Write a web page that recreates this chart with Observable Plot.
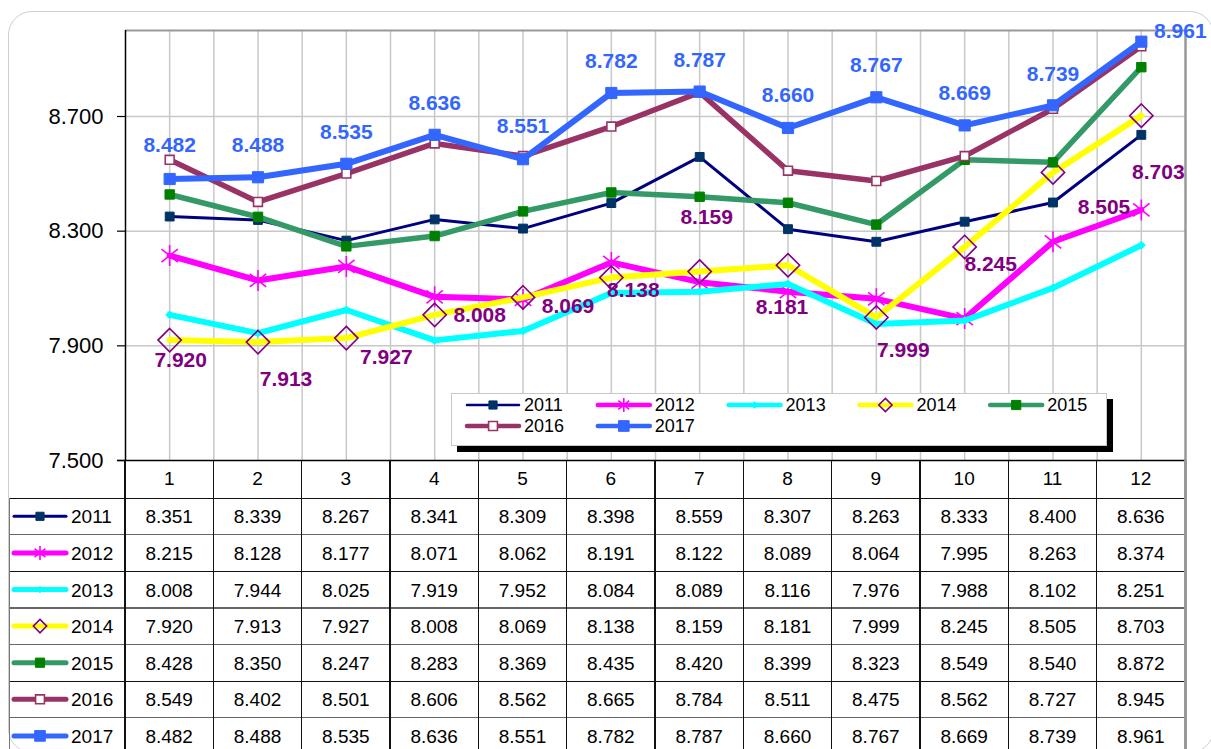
<!DOCTYPE html>
<html><head><meta charset="utf-8">
<script src="https://cdn.jsdelivr.net/npm/d3@7"></script>
<script src="https://cdn.jsdelivr.net/npm/@observablehq/plot@0.6"></script>
<style>
body{margin:0;background:#fff;font-family:"Liberation Sans",Arial,sans-serif;}
#wrap{position:relative;width:1211px;height:749px;overflow:hidden;background:#fff;}
#frame{position:absolute;left:8px;top:11px;width:1206px;height:742px;border:1.5px solid #cfcfcf;border-radius:24px;box-sizing:border-box;}
#chart{position:absolute;left:0;top:0;}
.cell{position:absolute;text-align:center;font-size:19px;color:#000;line-height:20px;white-space:nowrap;}
.hl,.vl{position:absolute;}
#legend{position:absolute;background:#fff;border:1px solid #c8c8c8;box-shadow:6px 6px 0 #000;}
.lg{position:absolute;font-size:18px;line-height:16px;height:16px;white-space:nowrap;}
svg.key{position:absolute;overflow:visible;}
</style></head>
<body><div id="wrap"><div id="frame"></div><div id="chart"></div><div id="table"></div></div>
<script>
// ---- data ----
const months = [1,2,3,4,5,6,7,8,9,10,11,12];
const years = ["2011","2012","2013","2014","2015","2016","2017"];
const v2011 = [8.351,8.339,8.267,8.341,8.309,8.398,8.559,8.307,8.263,8.333,8.400,8.636];
const v2012 = [8.215,8.128,8.177,8.071,8.062,8.191,8.122,8.089,8.064,7.995,8.263,8.374];
const v2013 = [8.008,7.944,8.025,7.919,7.952,8.084,8.089,8.116,7.976,7.988,8.102,8.251];
const v2014 = [7.920,7.913,7.927,8.008,8.069,8.138,8.159,8.181,7.999,8.245,8.505,8.703];
const v2015 = [8.428,8.350,8.247,8.283,8.369,8.435,8.420,8.399,8.323,8.549,8.540,8.872];
const v2016 = [8.549,8.402,8.501,8.606,8.562,8.665,8.784,8.511,8.475,8.562,8.727,8.945];
const v2017 = [8.482,8.488,8.535,8.636,8.551,8.782,8.787,8.660,8.767,8.669,8.739,8.961];
const seriesValues = [v2011,v2012,v2013,v2014,v2015,v2016,v2017];
const yTicks = [7.5,7.9,8.3,8.7];
const yDomain = [7.5,9.0];

// ---- styles (not data) ----
const excelStar = {draw(ctx,size){const r=Math.sqrt(size/Math.PI);const a=r*0.78,b=r*0.62;
  ctx.moveTo(0,-r);ctx.lineTo(0,r);ctx.moveTo(-a,-b);ctx.lineTo(a,b);ctx.moveTo(-a,b);ctx.lineTo(a,-b);}};
const styles = [
 {line:"#000080",w:3,  sym:"square",  r:5,   fill:"#003366",stroke:"#003366",sw:1, kr:4.6},
 {line:"#ff00ff",w:6,  sym:excelStar, r:10.5,fill:"none",   stroke:"#ff00ff",sw:1.6,kr:7},
 {line:"#00ffff",w:6,  sym:"diamond2",r:3.5, fill:"#00ffff",stroke:"#00ffff",sw:1, kr:3},
 {line:"#ffff00",w:6,  sym:"diamond2",r:10.5,fill:"none",   stroke:"#800080",sw:1.6,kr:6},
 {line:"#339966",w:5.5,sym:"square",  r:5.3, fill:"#008000",stroke:"#008000",sw:1, kr:5.2},
 {line:"#993366",w:5.5,sym:"square",  r:5,   fill:"#ffffff",stroke:"#993366",sw:1.6,kr:5},
 {line:"#3366ff",w:6,  sym:"square",  r:6.3, fill:"#3366ff",stroke:"#3366ff",sw:1, kr:6}
];
// label nudges in pixels [dx, dy]
const nudge2014 = [[11,20],[28,37],[40,19],[45,0],[45,9],[22,13],[7,-54],[-6,42],[27,33],[26,17],[51,35],[17,57]];
const nudge2017 = [[0,-34],[0,-32],[0,-32],[0,-32],[0,-33],[0,-32],[0,-31],[0,-33],[0,-32],[0,-32],[0,-31],[39,-10]];

const fmt = d3.format(".3f");
const gridX = months.flatMap(m => m < 12 ? [m, m + 0.5] : [m]);

const marks = [
  Plot.gridY({ticks: yTicks.slice(1), stroke:"#c8c8c8", strokeOpacity:1, strokeWidth:1.5}),
  Plot.gridX({ticks: gridX, stroke:"#c8c8c8", strokeOpacity:1, strokeWidth:1.5}),
  Plot.ruleY([yDomain[1]], {stroke:"#999", strokeWidth:2}),
  Plot.ruleX([12.5], {stroke:"#999", strokeWidth:2.5}),
  Plot.ruleX([0.5], {stroke:"#000", strokeWidth:1.5}),
  Plot.ruleY([yDomain[0]], {stroke:"#000", strokeWidth:1.5, x1:0.41, x2:12.5}),
  Plot.axisY({ticks: yTicks, tickFormat: fmt, tickSize:8, tickPadding:14, fontSize:22, label:null, stroke:"#000", strokeWidth:1.2})
];
years.forEach((yr,i) => {
  const s = styles[i];
  const d = months.map((m,j) => ({month:m, value:seriesValues[i][j]}));
  marks.push(Plot.line(d, {x:"month", y:"value", stroke:s.line, strokeWidth:s.w, strokeLinejoin:"round", strokeLinecap:"round"}));
  marks.push(Plot.dot(d, {x:"month", y:"value", symbol:s.sym, r:s.r, fill:s.fill, stroke:s.stroke, strokeWidth:s.sw}));
});
months.forEach((m,j) => {
  marks.push(Plot.text([{month:m, value:v2014[j]}], {x:"month", y:"value", text:d=>fmt(d.value), dx:nudge2014[j][0], dy:nudge2014[j][1], fill:"#800080", fontWeight:"bold", fontSize:21}));
  marks.push(Plot.text([{month:m, value:v2017[j]}], {x:"month", y:"value", text:d=>fmt(d.value), dx:nudge2017[j][0], dy:nudge2017[j][1], fill:"#3366ff", fontWeight:"bold", fontSize:21}));
});

const chart = Plot.plot({
  width:1211, height:461, marginTop:30, marginBottom:1, marginLeft:125, marginRight:26,
  style:{fontFamily:"'Liberation Sans', Arial, sans-serif", fontSize:"22px", overflow:"visible", background:"transparent", color:"#000"},
  x:{type:"linear", domain:[0.5,12.5], axis:null},
  y:{domain:yDomain, axis:null},
  marks
});
document.getElementById("chart").appendChild(chart);

const xs = chart.scale("x");
const X = v => xs.apply(v);
const tbl = document.getElementById("table");
const wrap = document.getElementById("wrap");
const top0 = 460, headH = 38, rowH = 36.6, tableLeft = 9;
function add(cls, css, txt){const e=document.createElement("div");e.className=cls;Object.assign(e.style,css);if(txt!=null)e.textContent=txt;tbl.appendChild(e);return e;}
// header numbers
months.forEach(m => add("cell",{left:(X(m-0.5))+"px",width:(X(m+0.5)-X(m-0.5))+"px",top:(top0+headH/2-10)+"px"}, String(m)));
// values
years.forEach((yr,i) => {
  const cy = top0 + headH + rowH*i + rowH/2;
  months.forEach((m,j) => add("cell",{left:X(m-0.5)+"px",width:(X(m+0.5)-X(m-0.5))+"px",top:(cy-9)+"px"}, fmt(seriesValues[i][j])));
  add("cell",{left:"71px",top:(cy-9)+"px",textAlign:"left"}, yr);
});
// horizontal lines
for (let r=0;r<=years.length;r++){
  const y = top0 + headH + rowH*r;
  add("hl",{left:tableLeft+"px",top:(y-0.5)+"px",width:(X(12.5)-tableLeft)+"px",height:"1.3px",background:(r===0||r===2||r===5)?"#111":"#666"});
}
// vertical lines
months.concat([13]).forEach(m => {
  const x = X(m-0.5);
  add("vl",{left:(x-0.6)+"px",top:top0+"px",width:(m===13?"2.5px":"1.3px"),height:(749-top0)+"px",background:m===13?"#999":"#111"});
});
add("vl",{left:tableLeft+"px",top:(top0+headH)+"px",width:"1.3px",height:"300px",background:"#777"});

// key drawing
function symbolType(sym){ if(sym==="square") return d3.symbolSquare; if(sym==="diamond2") return d3.symbolDiamond2; return sym; }
function drawKey(parent, s, x1, x2, cy, lw){
  const svg = d3.select(parent).append("svg").attr("class","key")
    .style("left","0px").style("top","0px").attr("width",1).attr("height",1);
  svg.append("line").attr("x1",x1).attr("x2",x2).attr("y1",cy).attr("y2",cy)
    .attr("stroke",s.line).attr("stroke-width",lw).attr("stroke-linecap","round");
  svg.append("path").attr("transform",`translate(${(x1+x2)/2},${cy})`)
    .attr("d",d3.symbol(symbolType(s.sym), s.kr*s.kr*Math.PI)())
    .attr("fill",s.fill).attr("stroke",s.stroke).attr("stroke-width",s.sw);
}
years.forEach((yr,i) => {
  const cy = top0 + headH + rowH*i + rowH/2;
  drawKey(tbl, styles[i], 14, 66, cy, i===0?3:5);
});

// legend box
const lg = document.createElement("div"); lg.id="legend";
Object.assign(lg.style,{left:"451px",top:"393px",width:"654px",height:"51px"});
wrap.appendChild(lg);
years.forEach((yr,i) => {
  const col = i<5 ? i : i-5, row = i<5 ? 0 : 1;
  const x1 = 467 + col*130.8, cy = 405 + row*21;
  drawKey(wrap, styles[i], x1, x1+52, cy, i===0?2.5:4.5);
  const t = document.createElement("div"); t.className="lg"; t.textContent=yr;
  Object.assign(t.style,{left:(x1+57)+"px",top:(cy-8)+"px"});
  wrap.appendChild(t);
});
</script>
</body></html>
